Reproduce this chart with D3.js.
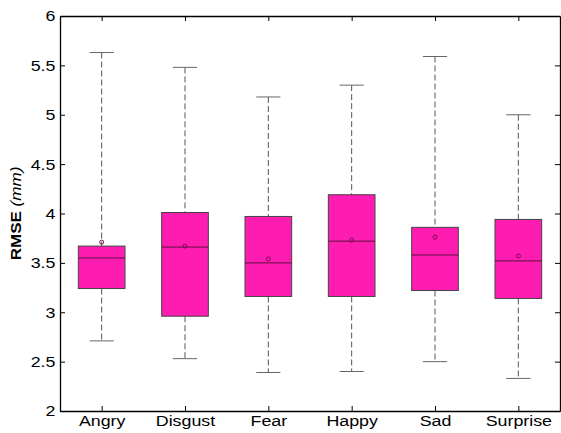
<!DOCTYPE html>
<html>
<head>
<meta charset="utf-8">
<script src="https://cdn.jsdelivr.net/npm/d3@7"></script>
<style>
  body { margin: 0; background: #fff; }
  svg { display: block; }
</style>
</head>
<body>
<svg width="561" height="433"></svg>
<script>
// box plot stats
const categories = ["Angry", "Disgust", "Fear", "Happy", "Sad", "Surprise"];
const whiskerLow  = [2.71, 2.53, 2.39, 2.40, 2.50, 2.33];
const q1          = [3.24, 2.96, 3.16, 3.16, 3.22, 3.14];
const median      = [3.55, 3.66, 3.50, 3.72, 3.58, 3.52];
const q3          = [3.67, 4.01, 3.97, 4.19, 3.86, 3.94];
const whiskerHigh = [5.63, 5.48, 5.18, 5.30, 5.59, 5.00];
const means       = [3.71, 3.67, 3.54, 3.73, 3.76, 3.57];
const yTicks = [2, 2.5, 3, 3.5, 4, 4.5, 5, 5.5, 6];

const chart = () => {
    const margin = {top: 16, right: 1, bottom: 22, left: 60};
    const width = 561, height = 433;

    const svg = d3.select("svg");

    const x = d3.scalePoint()
        .domain(categories)
        .range([margin.left, width - margin.right])
        .padding(0.5);

    const y = d3.scaleLinear()
        .domain([2, 6])
        .range([height - margin.bottom, margin.top]);

    const step = x.step();
    const boxW = step * 0.56;
    const capW = step * 0.29;

    const rows = categories.map((c, i) => ({
        name: c, lo: whiskerLow[i], q1: q1[i], med: median[i],
        q3: q3[i], hi: whiskerHigh[i], mean: means[i]
    }));

    const font = "'Liberation Sans', Arial, sans-serif";

    // whiskers
    const g = svg.append("g");
    g.selectAll("line.wup").data(rows).enter().append("line")
        .attr("x1", d => x(d.name)).attr("x2", d => x(d.name))
        .attr("y1", d => y(d.hi)).attr("y2", d => y(d.q3))
        .attr("stroke", "#555").attr("stroke-dasharray", "6,3");
    g.selectAll("line.wdn").data(rows).enter().append("line")
        .attr("x1", d => x(d.name)).attr("x2", d => x(d.name))
        .attr("y1", d => y(d.q1)).attr("y2", d => y(d.lo))
        .attr("stroke", "#555").attr("stroke-dasharray", "6,3");
    // caps
    g.selectAll("line.caphi").data(rows).enter().append("line")
        .attr("x1", d => x(d.name) - capW / 2).attr("x2", d => x(d.name) + capW / 2)
        .attr("y1", d => y(d.hi)).attr("y2", d => y(d.hi))
        .attr("stroke", "#666");
    g.selectAll("line.caplo").data(rows).enter().append("line")
        .attr("x1", d => x(d.name) - capW / 2).attr("x2", d => x(d.name) + capW / 2)
        .attr("y1", d => y(d.lo)).attr("y2", d => y(d.lo))
        .attr("stroke", "#666");

    // boxes
    g.selectAll("rect").data(rows).enter().append("rect")
        .attr("x", d => x(d.name) - boxW / 2)
        .attr("y", d => y(d.q3))
        .attr("width", boxW)
        .attr("height", d => y(d.q1) - y(d.q3))
        .attr("fill", "#ff1cb0")
        .attr("stroke", "#444");

    // medians
    g.selectAll("line.med").data(rows).enter().append("line")
        .attr("x1", d => x(d.name) - boxW / 2).attr("x2", d => x(d.name) + boxW / 2)
        .attr("y1", d => y(d.med)).attr("y2", d => y(d.med))
        .attr("stroke", "#5a1040");

    // means
    g.selectAll("circle").data(rows).enter().append("circle")
        .attr("cx", d => x(d.name)).attr("cy", d => y(d.mean))
        .attr("r", 2)
        .attr("fill", "none")
        .attr("stroke", "#7a0a55");

    // axes, ticks pointing inward like matlab
    svg.append("g")
        .attr("transform", `translate(0,${height - margin.bottom})`)
        .call(d3.axisBottom(x).tickSizeInner(-5).tickSizeOuter(0).tickPadding(4));
    svg.append("g")
        .attr("transform", `translate(0,${margin.top})`)
        .call(d3.axisTop(x).tickSizeInner(-5).tickSizeOuter(0).tickFormat(""));
    svg.append("g")
        .attr("transform", `translate(${margin.left},0)`)
        .call(d3.axisLeft(y).tickValues(yTicks).tickFormat(d3.format("")).tickSizeInner(-5).tickSizeOuter(0).tickPadding(4));
    svg.append("g")
        .attr("transform", `translate(${width - margin.right},0)`)
        .call(d3.axisRight(y).tickValues(yTicks).tickSizeInner(-5).tickSizeOuter(0).tickFormat(""));

    svg.selectAll(".domain").attr("stroke", "#000").attr("stroke-width", 1.3);
    svg.selectAll(".tick line").attr("stroke", "#000");
    // the reference lettering is a bit wider than arial
    svg.selectAll(".tick text")
        .attr("fill", "#000")
        .attr("transform", "scale(1.15,1)")
        .style("font-family", font)
        .style("font-size", "15.5px");

    // y label
    const lab = svg.append("text")
        .attr("transform", `translate(21,${(margin.top + height - margin.bottom) / 2}) rotate(-90) scale(1.1,1)`)
        .attr("text-anchor", "middle")
        .style("font-family", font)
        .style("font-size", "15.5px");
    lab.append("tspan").attr("font-weight", "bold").text("RMSE ");
    lab.append("tspan").attr("font-style", "italic").text("(mm)");
};

chart();
</script>
</body>
</html>
